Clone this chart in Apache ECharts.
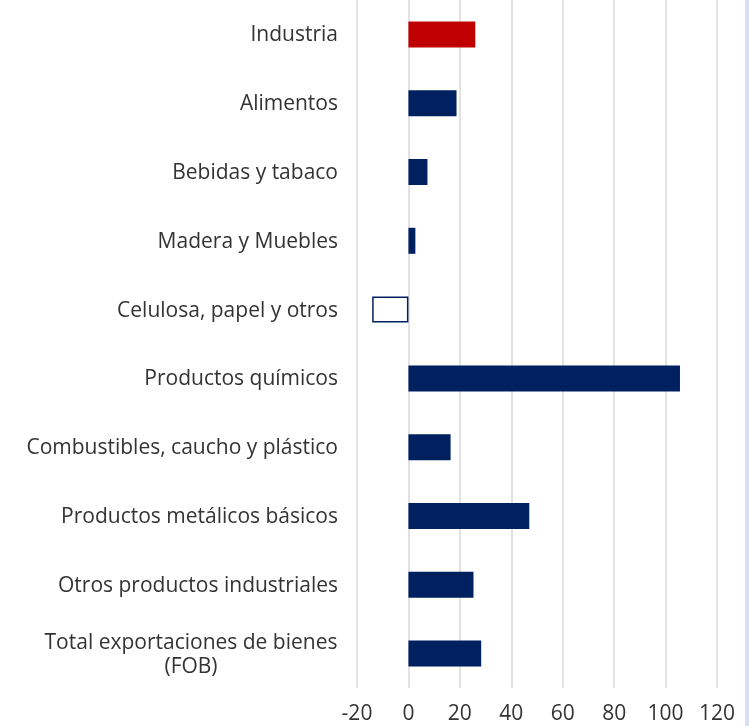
<!DOCTYPE html>
<html><head><meta charset="utf-8">
<script src="https://cdn.jsdelivr.net/npm/echarts@6/dist/echarts.min.js"></script>
<style>html,body{margin:0;padding:0;background:#fff}#c{width:749px;height:726px}</style>
</head><body><div id="c"></div>
<script>
const categories = ["Industria","Alimentos","Bebidas y tabaco","Madera y Muebles","Celulosa, papel y otros","Productos químicos","Combustibles, caucho y plástico","Productos metálicos básicos","Otros productos industriales","Total exportaciones de bienes (FOB)"];
const values = [26, 18.7, 7.4, 2.7, -14.1, 105.6, 16.4, 47, 25.3, 28.3];
const xTicks = [-20, 0, 20, 40, 60, 80, 100, 120];

const chart = echarts.init(document.getElementById('c'));
const data = values.map((v, i) => {
  if (i === 0) return {value: v, itemStyle: {color: '#c00000'}};
  if (v < 0) return {value: v, itemStyle: {color: '#ffffff', borderColor: '#002060', borderWidth: 1.5}};
  return {value: v, itemStyle: {color: '#002060'}};
});
chart.setOption({
  animation: false,
  grid: {left: 357, right: 32, top: -1, bottom: 38, containLabel: false},
  xAxis: {
    type: 'value', min: xTicks[0], max: xTicks[xTicks.length-1], interval: 20,
    axisLine: {show: false}, axisTick: {show: false},
    splitLine: {lineStyle: {color: '#d9d9d9', width: 1.5}},
    axisLabel: {color: '#333', fontSize: 21, fontFamily: 'Open Sans', margin: 16,
      formatter: v => xTicks.includes(v) ? String(v) : ''}
  },
  yAxis: {
    type: 'category', inverse: true, data: categories,
    axisLine: {show: false}, axisTick: {show: false},
    axisLabel: {color: '#333', fontSize: 21, fontFamily: 'Open Sans', margin: 19, padding: [2, 0, 0, 0],
      formatter: (v) => v.includes('(FOB)') ? '{c|Total exportaciones de bienes}\n{c|(FOB)}' : v,
      rich: {c: {width: 294, align: 'center', fontSize: 21, fontFamily: 'Open Sans', color: '#333', lineHeight: 24}}
    }
  },
  series: [{type: 'bar', data: data, barWidth: 26}],
  graphic: [{type: 'rect', right: 0, top: 0, shape: {width: 4, height: 726}, style: {fill: '#d6dff5'}}]
});
</script></body></html>
